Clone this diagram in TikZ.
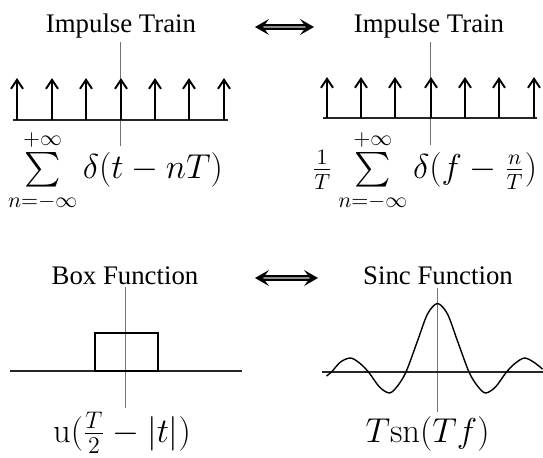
\documentclass[tikz,border=0pt]{standalone}
\usepackage{amsmath}
\usepackage[no-math]{fontspec}
\setmainfont{Liberation Serif}
\usetikzlibrary{arrows.meta}
\tikzset{
  axisline/.style={draw=black!55, line width=0.5pt},
  groundline/.style={draw=black!85, line width=0.6pt},
  impulse/.style={line width=1pt, -{Straight Barb[length=4.5pt,width=6pt]}},
  sigline/.style={line width=0.7pt},
  title/.style={anchor=base, inner sep=0pt, font=\fontsize{13.4}{15}\selectfont},
  formula/.style={anchor=base, inner sep=0pt, font=\fontsize{16}{19}\selectfont},
  biglabel/.style={anchor=base, inner sep=0pt, font=\fontsize{17.5}{20}\selectfont},
  equiv/.style={double=black!45, double distance=1.2pt, line width=0.8pt,
    {Stealth[length=7pt,width=8pt,inset=3pt]}-{Stealth[length=7pt,width=8pt,inset=3pt]}}
}
\begin{document}
\begin{tikzpicture}[x=0.5pt, y=-0.5pt]
  \useasboundingbox (0,0) rectangle (543,457);
  % Tren de impulsos en el tiempo
  \node[title] (ttlA) at (121,32.5) {Impulse Train};
  \draw[axisline] (121,42) -- (121,146);
  \draw[groundline] (13,120) -- (228,120);
  \foreach \x in {17,52,86,121,155,189,224}
    \draw[impulse] (\x,120) -- (\x,78);
  \node[formula] (sumA) at (115.5,178)
    {$\sum\limits_{n=-\infty}^{+\infty}\delta(t-nT)$};
  % Tren de impulsos en frecuencia
  \node[title] (ttlB) at (429,32.5) {Impulse Train};
  \draw[axisline] (431,42) -- (431,145);
  \draw[groundline] (323,118) -- (537,118);
  \foreach \x in {327,361,395,431,465,499,534}
    \draw[impulse] (\x,118) -- (\x,77);
  \node[formula] (sumB) at (424.5,178)
    {$\tfrac{1}{T}\sum\limits_{n=-\infty}^{+\infty}\delta(f-\tfrac{n}{T})$};
  % Flechas de equivalencia
  \coordinate (eqA1) at (255,27);
  \coordinate (eqA2) at (314,27);
  \draw[equiv] (eqA1) -- (eqA2);
  \coordinate (eqB1) at (255,278);
  \coordinate (eqB2) at (318,278);
  \draw[equiv] (eqB1) -- (eqB2);
  % Función caja
  \node[title] (ttlC) at (125,284) {Box Function};
  \draw[axisline] (126,287) -- (126,408);
  \draw[groundline] (10,371) -- (242,371);
  \draw[sigline, line width=0.6pt] (95,371) rectangle (158,333);
  \node[biglabel] (boxf) at (122,442) {$\mathrm{u}(\tfrac{T}{2}-|t|)$};
  % Función sinc
  \node[title] (ttlD) at (438,284) {Sinc Function};
  \draw[axisline] (438,288) -- (438,412);
  \draw[groundline] (322,372) -- (543,372);
  \draw[sigline, shift={(437.5,372)}] plot[smooth] coordinates {
    (-111,4) (-106,0) (-97,-10) (-87,-14) (-78,-9) (-69,0) (-58,15) (-48,21)
    (-40,14) (-31.5,0) (-20,-31) (-10,-58) (0,-68.5) (10,-58) (20,-31)
    (31.5,0) (40,14) (48,21) (58,15) (69,0) (78,-9) (87,-14) (96,-10) (105,-3)};
  \node[biglabel] (sincf) at (427.5,442) {$T\mathrm{sn}(Tf)$};
\end{tikzpicture}
\end{document}
